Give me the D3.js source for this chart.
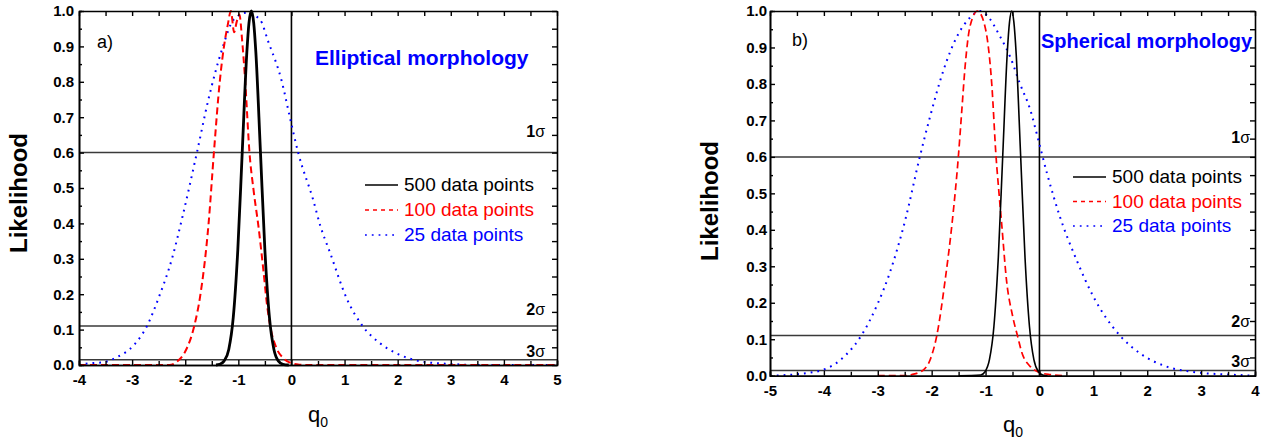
<!DOCTYPE html>
<html>
<head>
<meta charset="utf-8">
<script src="https://cdnjs.cloudflare.com/ajax/libs/d3/7.8.5/d3.min.js"></script>
<style>
  body { margin: 0; background: #fff; }
  svg text { font-family: Arial, "Liberation Sans", sans-serif; }
</style>
</head>
<body>
<div id="chart"></div>
<script>
var svgWidth = 1281;
var svgHeight = 445;

// tick values
var xTicksA = [-4, -3, -2, -1, 0, 1, 2, 3, 4, 5];
var xMinorA = [-3.5, -2.5, -1.5, -0.5, 0.5, 1.5, 2.5, 3.5, 4.5];
var xTicksB = [-5, -4, -3, -2, -1, 0, 1, 2, 3, 4];
var xMinorB = [-4.5, -3.5, -2.5, -1.5, -0.5, 0.5, 1.5, 2.5, 3.5];
var yTicks = [0, 0.1, 0.2, 0.3, 0.4, 0.5, 0.6, 0.7, 0.8, 0.9, 1.0];
var yMinor = [0.05, 0.15, 0.25, 0.35, 0.45, 0.55, 0.65, 0.75, 0.85, 0.95];

// confidence levels
var sigmaNames = ["1", "2", "3"];
var sigmaLevelsA = [0.6, 0.11, 0.015];
var sigmaLevelsB = [0.6, 0.11, 0.014];

var seriesNames = ["500 data points", "100 data points", "25 data points"];

// a) elliptical morphology, [q0, likelihood]
var a500 = [[-1.42, 0], [-1.35, 0.002], [-1.27, 0.011], [-1.18, 0.044], [-1.095, 0.135], [-1.01, 0.325],
  [-0.925, 0.607], [-0.84, 0.883], [-0.80, 0.966], [-0.755, 1.0], [-0.71, 0.966], [-0.67, 0.883],
  [-0.585, 0.607], [-0.5, 0.325], [-0.415, 0.135], [-0.33, 0.044], [-0.245, 0.011], [-0.16, 0.002], [-0.05, 0]];
var a100 = [[-4, 0], [-2.3, 0], [-2.16, 0.009], [-2.0, 0.038], [-1.83, 0.11], [-1.72, 0.193], [-1.56, 0.40],
  [-1.46, 0.60], [-1.35, 0.80], [-1.27, 0.90], [-1.2, 0.96], [-1.14, 1.0], [-1.08, 0.94], [-1.03, 0.97],
  [-0.98, 0.99], [-0.93, 0.92], [-0.87, 0.80], [-0.79, 0.60], [-0.71, 0.49], [-0.62, 0.39], [-0.53, 0.27],
  [-0.46, 0.17], [-0.40, 0.11], [-0.28, 0.047], [-0.15, 0.019], [0, 0.005], [0.15, 0.001], [0.3, 0], [5, 0]];
var a25 = [[-4, 0], [-3.9, 0.003], [-3.5, 0.009], [-3.3, 0.021], [-2.95, 0.059], [-2.72, 0.11], [-2.5, 0.19],
  [-2.25, 0.30], [-2.05, 0.42], [-1.78, 0.60], [-1.565, 0.749], [-1.31, 0.89], [-1.09, 0.975], [-0.84, 0.995],
  [-0.59, 0.975], [-0.435, 0.913], [-0.18, 0.80], [-0.03, 0.70], [0.13, 0.598], [0.41, 0.466], [0.54, 0.395],
  [0.73, 0.316], [1.04, 0.188], [1.34, 0.11], [1.67, 0.061], [1.98, 0.033], [2.48, 0.009], [2.99, 0.003],
  [3.5, 0], [5, 0]];

// b) spherical morphology
var b500 = [[-1.5, 0], [-1.09, 0.002], [-1.01, 0.011], [-0.928, 0.044], [-0.845, 0.135], [-0.763, 0.325],
  [-0.68, 0.607], [-0.598, 0.883], [-0.555, 0.97], [-0.515, 1.0], [-0.475, 0.97], [-0.432, 0.883],
  [-0.35, 0.607], [-0.268, 0.325], [-0.185, 0.135], [-0.103, 0.044], [-0.02, 0.011], [0.06, 0.002], [0.15, 0]];
var b100 = [[-3.0, 0], [-2.45, 0], [-2.37, 0.003], [-2.25, 0.008], [-2.15, 0.016], [-2.03, 0.043],
  [-1.905, 0.11], [-1.75, 0.262], [-1.62, 0.42], [-1.505, 0.60], [-1.44, 0.729], [-1.38, 0.847],
  [-1.29, 0.957], [-1.15, 1.0], [-1.01, 0.957], [-0.885, 0.80], [-0.805, 0.60], [-0.75, 0.50],
  [-0.70, 0.415], [-0.61, 0.26], [-0.50, 0.165], [-0.40, 0.105], [-0.33, 0.065], [-0.17, 0.025],
  [0, 0.009], [0.2, 0.003], [0.5, 0]];
var b25 = [[-5, 0], [-4.45, 0.005], [-4.02, 0.016], [-3.59, 0.057], [-3.31, 0.109], [-3.0, 0.198],
  [-2.78, 0.281], [-2.49, 0.427], [-2.22, 0.60], [-2.03, 0.71], [-1.78, 0.838], [-1.53, 0.93], [-1.3, 0.98],
  [-1.1, 1.0], [-0.98, 0.989], [-0.73, 0.93], [-0.545, 0.875], [-0.36, 0.80], [-0.17, 0.729], [-0.02, 0.646],
  [0.14, 0.555], [0.38, 0.436], [0.69, 0.317], [1.0, 0.217], [1.5, 0.109], [1.87, 0.061], [2.36, 0.025],
  [2.92, 0.009], [3.54, 0.003], [4, 0]];

var svg = d3.select("#chart")
  .append("svg")
  .attr("width", svgWidth)
  .attr("height", svgHeight);

var styles = [
  { color: "#000", dash: null },
  { color: "#f00", dash: "7,4" },
  { color: "#00f", dash: "1.8,5" }
];

function drawPanel(p) {
  var x = d3.scaleLinear().domain(p.xDomain).range([p.left, p.right]);
  var y = d3.scaleLinear().domain([0, 1]).range([p.bottom, p.top]);
  var g = svg.append("g");

  // sigma levels
  g.selectAll(".sig")
    .data(p.levels)
    .enter()
    .append("line")
    .attr("x1", x.range()[0])
    .attr("x2", x.range()[1])
    .attr("y1", d => y(d))
    .attr("y2", d => y(d))
    .attr("stroke", "#3a3a3a")
    .attr("stroke-width", 1.5);

  // q0 = 0
  g.append("line")
    .attr("x1", x(0)).attr("x2", x(0))
    .attr("y1", y(0)).attr("y2", y(1))
    .attr("stroke", "#000")
    .attr("stroke-width", 1.6);

  var line = d3.line()
    .x(d => x(d[0]))
    .y(d => y(d[1]))
    .curve(d3.curveMonotoneX);

  // draw 25, 100 then 500 on top
  [2, 1, 0].forEach(function(i) {
    g.append("path")
      .datum(p.series[i])
      .attr("d", line)
      .attr("fill", "none")
      .attr("stroke", styles[i].color)
      .attr("stroke-width", p.widths[i])
      .attr("stroke-dasharray", styles[i].dash);
  });

  // axes, ticks inward on every side
  var fmt = d3.format(".1f");
  g.append("g")
    .attr("transform", "translate(0," + p.bottom + ")")
    .call(d3.axisBottom(x).tickValues(p.xTicks).tickSizeInner(-5).tickSizeOuter(0)
      .tickPadding(p.xPad).tickFormat(d => String(d)));
  g.append("g")
    .attr("transform", "translate(0," + p.bottom + ")")
    .call(d3.axisBottom(x).tickValues(p.xMinor).tickSize(-4).tickFormat(""));
  g.append("g")
    .attr("transform", "translate(0," + p.top + ")")
    .call(d3.axisTop(x).tickValues(p.xTicks.concat(p.xMinor)).tickSizeInner(-5).tickSizeOuter(0).tickFormat(""));
  g.append("g")
    .attr("transform", "translate(" + p.left + ",0)")
    .call(d3.axisLeft(y).tickValues(yTicks).tickSizeInner(-5).tickSizeOuter(0)
      .tickPadding(p.yPad).tickFormat(fmt));
  g.append("g")
    .attr("transform", "translate(" + p.left + ",0)")
    .call(d3.axisLeft(y).tickValues(yMinor).tickSize(-3).tickFormat(""));
  g.append("g")
    .attr("transform", "translate(" + p.right + ",0)")
    .call(d3.axisRight(y).tickValues(yTicks.concat(yMinor)).tickSizeInner(-5).tickSizeOuter(0).tickFormat(""));

  g.selectAll(".domain").attr("stroke", "#000").attr("stroke-width", 1.6);
  g.selectAll(".tick line").attr("stroke", "#000").attr("stroke-width", 1.4);
  g.selectAll(".tick text")
    .attr("fill", "#000")
    .style("font-size", "15px")
    .style("font-weight", "bold")
    .style("font-family", "Arial, 'Liberation Sans', sans-serif");

  // sigma labels
  p.sigmaY.forEach(function(sy, i) {
    var t = g.append("text")
      .attr("x", p.sigmaX)
      .attr("y", sy)
      .attr("text-anchor", "end")
      .style("font-size", "16px");
    t.append("tspan").style("font-weight", "bold").text(sigmaNames[i]);
    t.append("tspan").text("σ");
  });

  // panel tag and title
  g.append("text")
    .attr("x", p.tagX).attr("y", p.tagY)
    .style("font-size", "18px")
    .text(p.tag);
  g.append("text")
    .attr("x", p.titleX).attr("y", p.titleY)
    .attr("fill", "#00f")
    .style("font-size", p.titleSize + "px")
    .style("font-weight", "bold")
    .text(p.title);

  // legend
  seriesNames.forEach(function(name, i) {
    var ly = p.legY + i * p.legStep;
    g.append("line")
      .attr("x1", p.legX1).attr("x2", p.legX2)
      .attr("y1", ly - 6).attr("y2", ly - 6)
      .attr("stroke", styles[i].color)
      .attr("stroke-width", i == 0 ? 1.5 : 1.6)
      .attr("stroke-dasharray", i == 1 ? "4,4" : styles[i].dash);
    g.append("text")
      .attr("x", p.legX2 + 6).attr("y", ly)
      .attr("fill", styles[i].color)
      .style("font-size", "19px")
      .text(name);
  });

  // axis titles
  var q = g.append("text")
    .attr("x", p.qX).attr("y", p.qY)
    .style("font-size", "22px");
  q.append("tspan").text("q");
  q.append("tspan").attr("dy", 5).style("font-size", "14px").text("0");

  g.append("text")
    .attr("transform", "translate(" + p.likeX + "," + p.likeY + ") rotate(-90)")
    .attr("text-anchor", "middle")
    .style("font-size", "24px")
    .style("font-weight", "bold")
    .text("Likelihood");
}

drawPanel({
  left: 79, right: 557, top: 11, bottom: 365,
  xDomain: [-4, 5], xTicks: xTicksA, xMinor: xMinorA, xPad: 9, yPad: 5,
  levels: sigmaLevelsA, series: [a500, a100, a25], widths: [2.8, 2, 2],
  sigmaX: 545, sigmaY: [137, 315, 357],
  tag: "a)", tagX: 97, tagY: 48,
  title: "Elliptical morphology", titleX: 315, titleY: 65, titleSize: 21,
  legX1: 365, legX2: 398, legY: 191, legStep: 25,
  qX: 308, qY: 422, likeX: 27, likeY: 193
});

drawPanel({
  left: 770, right: 1255, top: 11, bottom: 375.7,
  xDomain: [-5, 4], xTicks: xTicksB, xMinor: xMinorB, xPad: 10, yPad: 3,
  levels: sigmaLevelsB, series: [b500, b100, b25], widths: [1.6, 1.7, 2],
  sigmaX: 1250, sigmaY: [143, 327, 367],
  tag: "b)", tagX: 792, tagY: 46,
  title: "Spherical morphology", titleX: 1041, titleY: 48, titleSize: 20,
  legX1: 1073, legX2: 1106, legY: 183, legStep: 24.5,
  qX: 1003, qY: 432, likeX: 718, likeY: 201
});
</script>
</body>
</html>
